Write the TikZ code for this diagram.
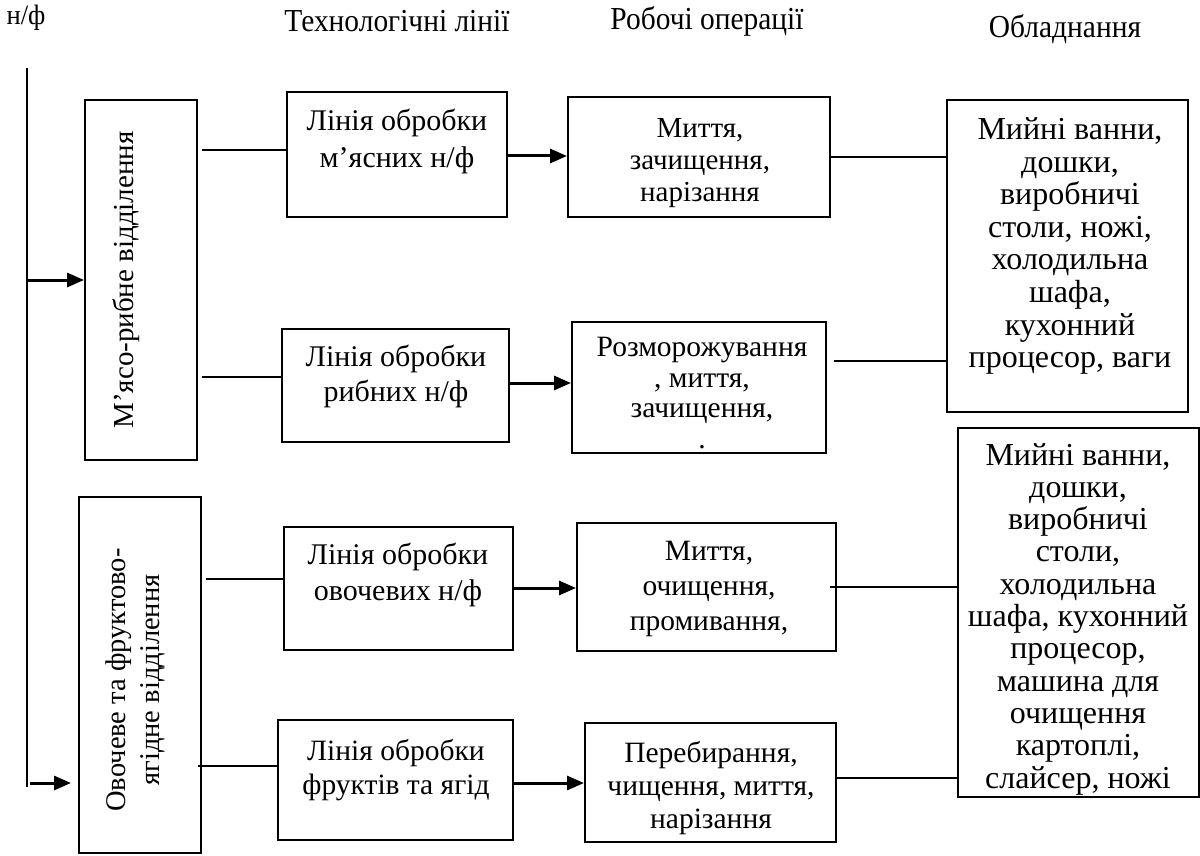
\documentclass[tikz,border=0pt]{standalone}
\usepackage{fontspec}
\setmainfont{Liberation Serif}
\usetikzlibrary{arrows.meta,calc}
\begin{document}
\begin{tikzpicture}[x=1pt,y=-1pt,
  box/.style={draw, line width=2pt, inner sep=0pt},
  txt/.style={align=center, font=\fontsize{30}{35}\selectfont, inner sep=0pt},
  hdr/.style={font=\fontsize{32}{34}\selectfont, inner sep=0pt},
  conn/.style={line width=1.8pt},
  arr/.style={line width=3pt, -{Triangle[length=17pt,width=14pt]}}]
\useasboundingbox (0,0) rectangle (1200,856);

% headers
\node[font=\fontsize{28}{30}\selectfont, inner sep=0pt] (h0) at (26,18) {\scalebox{0.95}[1]{н/ф}};
\node[hdr] (h1) at (397,21) {\scalebox{0.92}[1]{Технологічні лінії}};
\node[hdr] (h2) at (707,21) {\scalebox{0.92}[1]{Робочі операції}};
\node[hdr] (h3) at (1065,29) {\scalebox{0.92}[1]{Обладнання}};

% department boxes
\node[box, minimum width=112pt, minimum height=360pt] (d1) at (141,280) {};
\node[txt, rotate=90, font=\fontsize{29}{36}\selectfont] (d1t) at (126,280) {М’ясо-рибне відділення};
\node[box, minimum width=122pt, minimum height=356pt] (d2) at (140,675) {};
\node[txt, rotate=90, font=\fontsize{28.5}{34}\selectfont] (d2t) at (135,680) {Овочеве та фруктово-\\ягідне відділення};

% technological lines
\node[box, minimum width=220pt, minimum height=125pt] (t1) at (397,154.5) {};
\node[txt, font=\fontsize{30}{37}\selectfont] (t1t) at (397,141) {Лінія обробки\\м’ясних н/ф};
\node[box, minimum width=227pt, minimum height=113pt] (t2) at (395.5,385.5) {};
\node[txt] (t2t) at (396,376) {Лінія обробки\\рибних н/ф};
\node[box, minimum width=229pt, minimum height=123pt] (t3) at (398.5,588.5) {};
\node[txt, font=\fontsize{30}{36}\selectfont] (t3t) at (398,575) {Лінія обробки\\овочевих н/ф};
\node[box, minimum width=235pt, minimum height=120pt] (t4) at (395.5,780) {};
\node[txt, font=\fontsize{29.5}{34}\selectfont] (t4t) at (396,770) {Лінія обробки\\фруктів та ягід};

% operations
\node[box, minimum width=262pt, minimum height=120pt] (o1) at (699,157) {};
\node[txt, font=\fontsize{29}{32}\selectfont] (o1t) at (700,163) {Миття,\\зачищення,\\нарізання};
\node[box, minimum width=254pt, minimum height=131pt] (o2) at (699,387.5) {};
\node[txt, font=\fontsize{29.5}{30.5}\selectfont] (o2t) at (702,393) {Розморожування\\, миття,\\зачищення,\\.};
\node[box, minimum width=259pt, minimum height=128pt] (o3) at (706.5,587) {};
\node[txt, font=\fontsize{29.5}{35}\selectfont] (o3t) at (709,589) {Миття,\\очищення,\\промивання,};
\node[box, minimum width=251pt, minimum height=119pt] (o4) at (710.5,782.5) {};
\node[txt, font=\fontsize{29.5}{33}\selectfont] (o4t) at (711,788) {Перебирання,\\чищення, миття,\\нарізання};

% equipment
\node[box, minimum width=241pt, minimum height=312pt] (e1) at (1067.5,256) {};
\node[txt, font=\fontsize{32}{32.6}\selectfont] (e1t) at (1070,246) {Мийні ванни,\\дошки,\\виробничі\\столи, ножі,\\холодильна\\шафа,\\кухонний\\процесор, ваги};
\node[box, minimum width=241pt, minimum height=369pt] (e2) at (1078.5,612.5) {};
\node[txt, font=\fontsize{32}{32.3}\selectfont] (e2t) at (1078,619) {Мийні ванни,\\дошки,\\виробничі\\столи,\\холодильна\\шафа, кухонний\\процесор,\\машина для\\очищення\\картоплі,\\слайсер, ножі};

% main vertical line
\coordinate (vtop) at (27,68);
\coordinate (vbot) at (27,787);
\draw[conn] (vtop) -- (vbot);
\coordinate (s1) at (27,280);
\coordinate (s2) at (30,783);
\draw[arr] (s1) -- (s1 -| d1.west);
\draw[arr, shorten >=7pt] (s2) -- (s2 -| d2.west);

% department -> lines
\coordinate (y1) at (0,150);
\coordinate (y2) at (0,377);
\coordinate (y3) at (0,579);
\coordinate (y4) at (0,766);
\draw[conn, shorten <=4pt] (y1 -| d1.east) -- (y1 -| t1.west);
\draw[conn, shorten <=4pt] (y2 -| d1.east) -- (y2 -| t2.west);
\draw[conn, shorten <=4pt] (y3 -| d2.east) -- (y3 -| t3.west);
\draw[conn, shorten <=-4pt] (y4 -| d2.east) -- (y4 -| t4.west);

% lines -> operations
\coordinate (z1) at (0,156);
\coordinate (z2) at (0,383);
\coordinate (z3) at (0,588);
\coordinate (z4) at (0,783);
\draw[arr] (z1 -| t1.east) -- (z1 -| o1.west);
\draw[arr] (z2 -| t2.east) -- (z2 -| o2.west);
\draw[arr] (z3 -| t3.east) -- (z3 -| o3.west);
\draw[arr] (z4 -| t4.east) -- (z4 -| o4.west);

% operations -> equipment
\coordinate (w1) at (0,157);
\coordinate (w2) at (0,361);
\coordinate (w3) at (0,587);
\coordinate (w4) at (0,778);
\draw[conn] (w1 -| o1.east) -- (w1 -| e1.west);
\draw[conn, shorten <=7pt] (w2 -| o2.east) -- (w2 -| e1.west);
\draw[conn, shorten <=-7pt] (w3 -| o3.east) -- (w3 -| e2.west);
\draw[conn] (w4 -| o4.east) -- (w4 -| e2.west);
\end{tikzpicture}
\end{document}
